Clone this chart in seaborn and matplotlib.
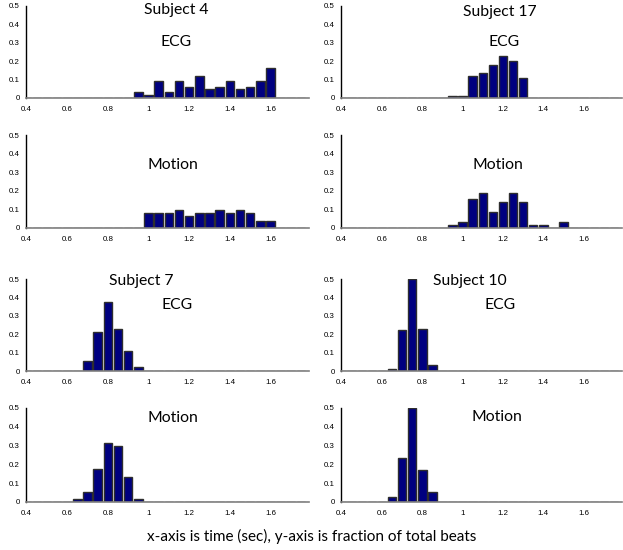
import matplotlib
matplotlib.use("Agg")
import matplotlib.pyplot as plt
import seaborn as sns
import pandas as pd

# ---- data ----
bins = [0.40, 0.45, 0.50, 0.55, 0.60, 0.65, 0.70, 0.75, 0.80, 0.85, 0.90, 0.95, 1.00, 1.05,
        1.10, 1.15, 1.20, 1.25, 1.30, 1.35, 1.40, 1.45, 1.50, 1.55, 1.60, 1.65, 1.70, 1.75]

s4_ecg = [0, 0, 0, 0, 0, 0, 0, 0, 0, 0, 0, 0.032, 0.019, 0.091,
          0.032, 0.091, 0.061, 0.121, 0.047, 0.061, 0.091, 0.047, 0.061, 0.091, 0.165, 0, 0, 0]
s4_motion = [0, 0, 0, 0, 0, 0, 0, 0, 0, 0, 0, 0, 0.079, 0.079,
             0.079, 0.098, 0.063, 0.079, 0.079, 0.098, 0.079, 0.098, 0.079, 0.040, 0.040, 0, 0, 0]
s17_ecg = [0, 0, 0, 0, 0, 0, 0, 0, 0, 0, 0, 0.012, 0.012, 0.121,
           0.135, 0.177, 0.228, 0.200, 0.107, 0, 0, 0, 0, 0, 0, 0, 0, 0]
s17_motion = [0, 0, 0, 0, 0, 0, 0, 0, 0, 0, 0, 0.018, 0.030, 0.156,
              0.188, 0.087, 0.142, 0.188, 0.142, 0.018, 0.018, 0, 0.030, 0, 0, 0, 0, 0]
s7_ecg = [0, 0, 0, 0, 0, 0, 0.054, 0.2125, 0.377, 0.229, 0.111, 0.020, 0, 0,
          0, 0, 0, 0, 0, 0, 0, 0, 0, 0, 0, 0, 0, 0]
s7_motion = [0, 0, 0, 0, 0, 0.017, 0.055, 0.178, 0.312, 0.298, 0.131, 0.017, 0, 0,
             0, 0, 0, 0, 0, 0, 0, 0, 0, 0, 0, 0, 0, 0]
s10_ecg = [0, 0, 0, 0, 0, 0.009, 0.223, 0.500, 0.229, 0.032, 0, 0, 0, 0,
           0, 0, 0, 0, 0, 0, 0, 0, 0, 0, 0, 0, 0, 0]
s10_motion = [0, 0, 0, 0, 0, 0.025, 0.235, 0.500, 0.171, 0.051, 0, 0, 0, 0,
              0, 0, 0, 0, 0, 0, 0, 0, 0, 0, 0, 0, 0, 0]

x_ticks = [0.4, 0.6, 0.8, 1.0, 1.2, 1.4, 1.6]
x_ticklabels = ["0.4", "0.6", "0.8", "1", "1.2", "1.4", "1.6"]
y_ticks = [0, 0.1, 0.2, 0.3, 0.4, 0.5]
y_ticklabels = ["0", "0.1", "0.2", "0.3", "0.4", "0.5"]

caption = "x-axis is time (sec), y-axis is fraction of total beats"

# ---- figure ----
sns.set_theme(style="white")
plt.rcParams["font.family"] = ["Liberation Sans", "DejaVu Sans"]

W, H = 623, 550
fig = plt.figure(figsize=(W / 100, H / 100), dpi=100)
fig.patch.set_facecolor("white")


def px_axes(left, right, top, bottom):
    return fig.add_axes([left / W, 1 - bottom / H, (right - left) / W, (bottom - top) / H])


cols = [(26, 309), (341, 622)]
rows = [(6, 98), (135, 228), (279, 371), (408, 502)]

panels = [
    (0, 0, s4_ecg), (0, 1, s17_ecg),
    (1, 0, s4_motion), (1, 1, s17_motion),
    (2, 0, s7_ecg), (2, 1, s10_ecg),
    (3, 0, s7_motion), (3, 1, s10_motion),
]

for r, c, vals in panels:
    l, rr = cols[c]
    t, b = rows[r]
    ax = px_axes(l, rr, t, b)
    df = pd.DataFrame({"bin": bins, "frac": vals})
    sns.barplot(data=df, x="bin", y="frac", native_scale=True, ax=ax,
                color="#000080", saturation=1, width=0.84,
                edgecolor="#2e2e2e", linewidth=1.0, errorbar=None)
    ax.set_xlim(0.397, 1.79)
    ax.set_ylim(0, 0.5)
    ax.set_xticks(x_ticks)
    ax.set_xticklabels(x_ticklabels)
    ax.set_yticks(y_ticks)
    ax.set_yticklabels(y_ticklabels)
    ax.set_xlabel("")
    ax.set_ylabel("")
    for s in ["top", "right"]:
        ax.spines[s].set_visible(False)
    ax.spines["left"].set_color("black")
    ax.spines["left"].set_linewidth(1.0)
    ax.spines["bottom"].set_color("#808080")
    ax.spines["bottom"].set_linewidth(1.2)
    ax.tick_params(axis="both", labelsize=5.7, colors="black", length=2.5, width=0.8,
                   direction="out", pad=2)
    ax.tick_params(axis="x", pad=3)
    ax.set_facecolor("none")
    ax.grid(False)

title_font = ["Lato", "DejaVu Sans"]
texts = [
    (176, 10, "Subject 4"), (176, 42, "ECG"),
    (500, 12, "Subject 17"), (504, 42, "ECG"),
    (173, 165, "Motion"), (498, 165, "Motion"),
    (141, 281, "Subject 7"), (177, 305, "ECG"),
    (470, 281, "Subject 10"), (500, 305, "ECG"),
    (173, 418, "Motion"), (497, 417, "Motion"),
]
for x, y, s in texts:
    fig.text(x / W, 1 - y / H, s, ha="center", va="center", fontsize=11.3,
             family=title_font, color="black")

fig.text(312 / W, 1 - 536 / H, caption, ha="center", va="center", fontsize=11,
         family=title_font, color="black")

fig.savefig("out.png", dpi=100, facecolor="white")
